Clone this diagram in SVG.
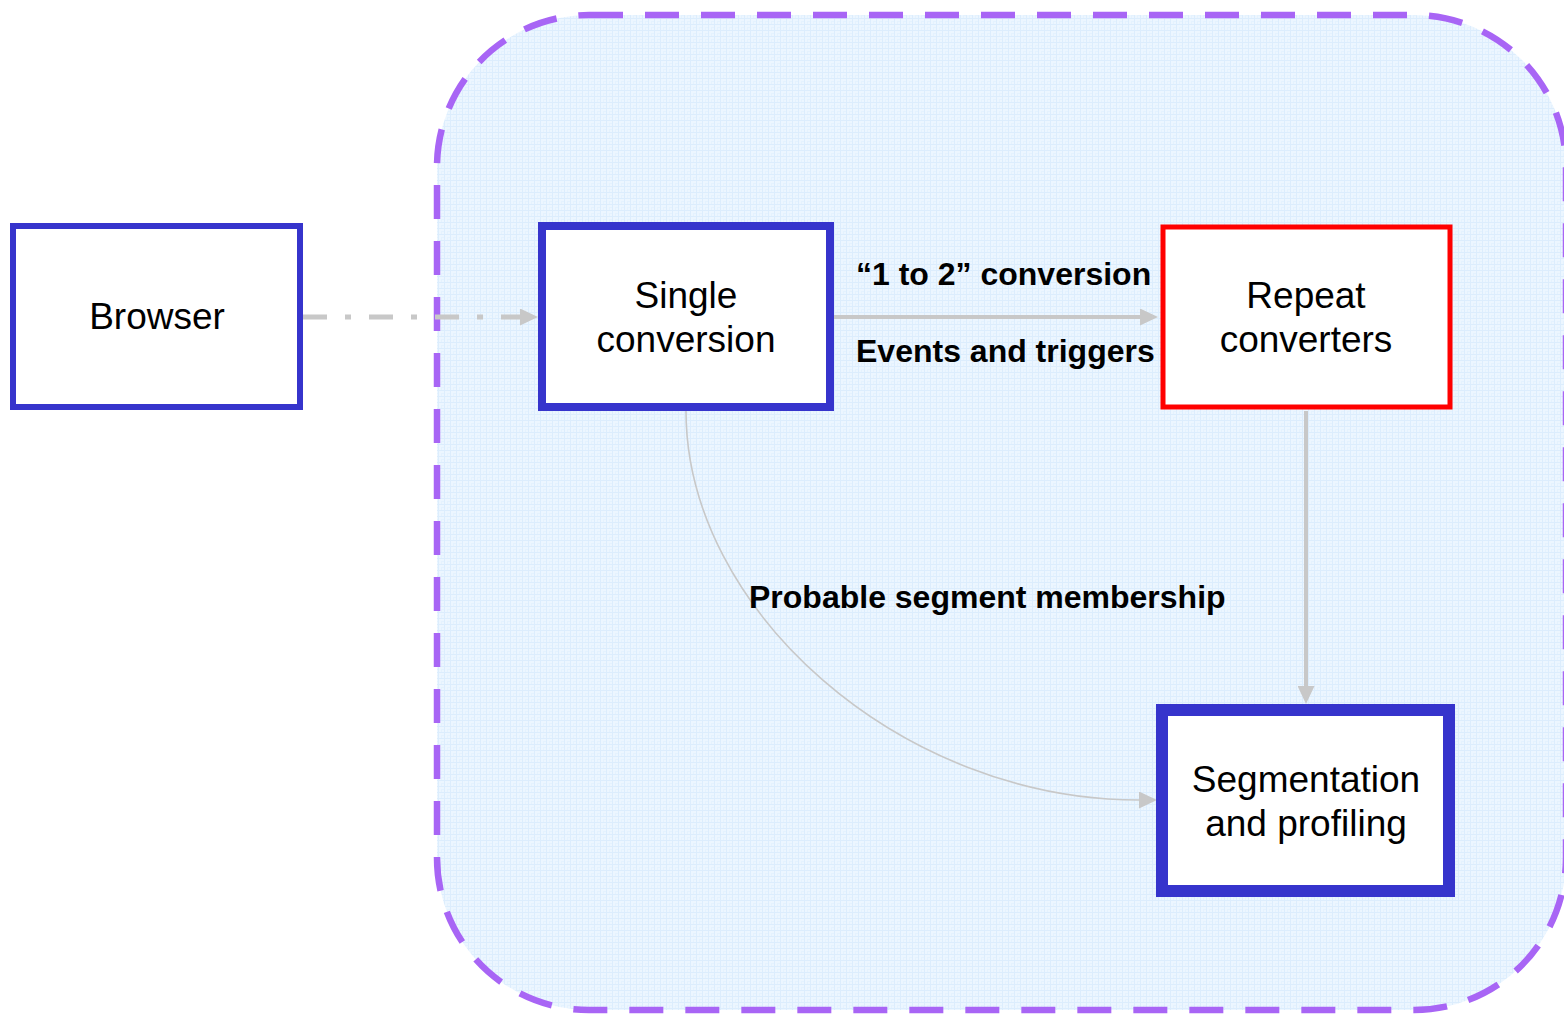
<svg xmlns="http://www.w3.org/2000/svg" width="1564" height="1015" viewBox="0 0 1564 1015">
  <style>
    .node-box { fill: #ffffff; }
    .blue { stroke: #3634cc; }
    .red { stroke: #ff0000; }
    .node-text { font-family: "Liberation Sans", Arial, sans-serif; font-size: 37px; fill: #000000; text-anchor: middle; }
    .edge-label { font-family: "Liberation Sans", Arial, sans-serif; font-size: 32px; font-weight: bold; fill: #000000; }
    .edge { fill: none; stroke: #c8c8c8; }
  </style>
  <defs>
    <!-- faint grid texture for the system area -->
    <pattern id="grid" width="6" height="6" patternUnits="userSpaceOnUse">
      <rect width="6" height="6" fill="#ecf6ff"/>
      <path d="M0,0.5 H6 M0.5,0 V6" stroke="#dcedfd" stroke-width="1"/>
      <path d="M3,3.5 H6 M3.5,3 V6" stroke="#e4f2fe" stroke-width="1"/>
    </pattern>
    <marker id="arrow" markerUnits="userSpaceOnUse" markerWidth="18" markerHeight="17" refX="0" refY="8.5" orient="auto">
      <path d="M0,0 L18,8.5 L0,17 z" fill="#c8c8c8"/>
    </marker>
  </defs>

  <!-- system boundary -->
  <g id="system-area">
    <rect x="437" y="15" width="1129" height="995" rx="152" ry="152" fill="url(#grid)" stroke="#a865f5" stroke-width="6.5" stroke-dasharray="34 22"/>
  </g>

  <!-- connectors -->
  <g id="connectors">
    <path class="edge" d="M303,317 H520" stroke-width="5" stroke-dasharray="24 18 6 18" marker-end="url(#arrow)"/>
    <path class="edge" d="M834,317 H1140" stroke-width="4" marker-end="url(#arrow)"/>
    <path class="edge" d="M1306,411 V686" stroke-width="4" marker-end="url(#arrow)"/>
    <path class="edge" d="M686,411 C686,610 900,800 1139,800" stroke-width="1.6" marker-end="url(#arrow)"/>
  </g>

  <!-- connector labels -->
  <g id="labels">
    <text class="edge-label" x="856" y="285">“1 to 2” conversion</text>
    <text class="edge-label" x="856" y="362">Events and triggers</text>
    <text class="edge-label" x="749" y="608">Probable segment membership</text>
  </g>

  <g id="browser">
    <rect class="node-box blue" x="13" y="226" width="287" height="181" stroke-width="6"/>
    <text class="node-text" x="157" y="329">Browser</text>
  </g>

  <g id="single-conversion">
    <rect class="node-box blue" x="542" y="226" width="288" height="181" stroke-width="8"/>
    <text class="node-text" x="686" y="308">Single</text>
    <text class="node-text" x="686" y="352">conversion</text>
  </g>

  <g id="repeat-converters">
    <rect class="node-box red" x="1163" y="227" width="287" height="180" stroke-width="5"/>
    <text class="node-text" x="1306" y="308">Repeat</text>
    <text class="node-text" x="1306" y="352">converters</text>
  </g>

  <g id="segmentation">
    <rect class="node-box blue" x="1162" y="710" width="287" height="181" stroke-width="12"/>
    <text class="node-text" x="1306" y="792">Segmentation</text>
    <text class="node-text" x="1306" y="836">and profiling</text>
  </g>
</svg>
